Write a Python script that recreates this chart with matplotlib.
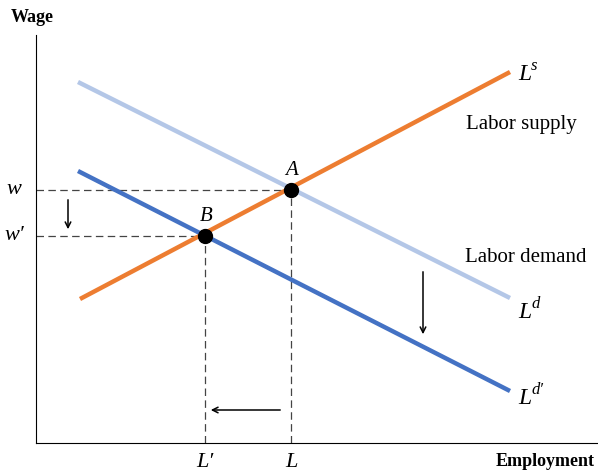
import matplotlib
matplotlib.use("Agg")
import matplotlib.pyplot as plt

matplotlib.rc('font', family='serif')
matplotlib.rc('font', serif=['Liberation Serif', 'DejaVu Serif'])

# line endpoints (x, y) in chart units
SUPPLY_X = [44, 474]
SUPPLY_Y = [144, 371]
DEMAND_X = [42, 474]
DEMAND_Y = [361, 145]
DEMAND2_X = [42, 474]
DEMAND2_Y = [272, 52]

# equilibria
EQ_NAMES = ["A", "B"]
EQ_X = [255, 169]
EQ_Y = [253, 207]

ORANGE = "#ED7D31"
LIGHTBLUE = "#B4C7E7"
BLUE = "#4472C4"

fig = plt.figure(figsize=(5.98, 4.71), dpi=100)
ax = fig.add_axes([36/598, 28/471, 562/598, 408/471])
ax.set_xlim(0, 562)
ax.set_ylim(0, 408)
ax.spines['top'].set_visible(False)
ax.spines['right'].set_visible(False)
ax.set_xticks([])
ax.set_yticks([])

# dashed guides
for x, y in zip(EQ_X, EQ_Y):
    ax.plot([0, x], [y, y], ls=(0, (6, 3.5)), color="#444444", lw=0.9, zorder=1)
    ax.plot([x, x], [0, y], ls=(0, (6, 3.5)), color="#444444", lw=0.9, zorder=1)

ax.plot(DEMAND_X, DEMAND_Y, color=LIGHTBLUE, lw=3.2, solid_capstyle='butt', zorder=2)
ax.plot(DEMAND2_X, DEMAND2_Y, color=BLUE, lw=3.2, solid_capstyle='butt', zorder=2)
ax.plot(SUPPLY_X, SUPPLY_Y, color=ORANGE, lw=3.2, solid_capstyle='butt', zorder=3)

ax.plot(EQ_X, EQ_Y, 'o', color='black', ms=10, zorder=4)
for name, x, y in zip(EQ_NAMES, EQ_X, EQ_Y):
    ax.text(x + 1, y + 10, name, style='italic', fontsize=15, ha='center', va='bottom')

# arrows
arrow = dict(arrowstyle='->', color='black', lw=1.1)
ax.annotate("", xy=(32, 211), xytext=(32, 246), arrowprops=arrow)
ax.annotate("", xy=(387, 106), xytext=(387, 174), arrowprops=arrow)
ax.annotate("", xy=(172, 33), xytext=(247, 33), arrowprops=arrow)

# axis value labels
ax.text(-22, EQ_Y[0], "w", style='italic', fontsize=16, ha='center', va='center', clip_on=False)
ax.text(-22, EQ_Y[1], "w\u2032", style='italic', fontsize=16, ha='center', va='center', clip_on=False)
ax.text(EQ_X[0], -10, "L", style='italic', fontsize=16, ha='center', va='top', clip_on=False)
ax.text(EQ_X[1], -10, "L\u2032", style='italic', fontsize=16, ha='center', va='top', clip_on=False)


def curve_label(x, y, sup):
    ax.text(x, y, "L", style='italic', fontsize=17, ha='left', va='center')
    ax.text(x + 13, y + 8, sup, style='italic', fontsize=12, ha='left', va='center')


# curve labels
curve_label(482, 369, "s")
curve_label(482, 131, "d")
curve_label(482, 45, "d\u2032")
ax.text(485, 319, "Labor supply", fontsize=15, ha='center', va='center')
ax.text(490, 186, "Labor demand", fontsize=15, ha='center', va='center')

fig.text(32/598, 1 - 17/471, "Wage", fontsize=13, fontweight='bold', ha='center', va='center')
fig.text(545/598, 1 - 461/471, "Employment", fontsize=13, fontweight='bold', ha='center', va='center')

fig.savefig("out.png", dpi=100)
plt.close()
